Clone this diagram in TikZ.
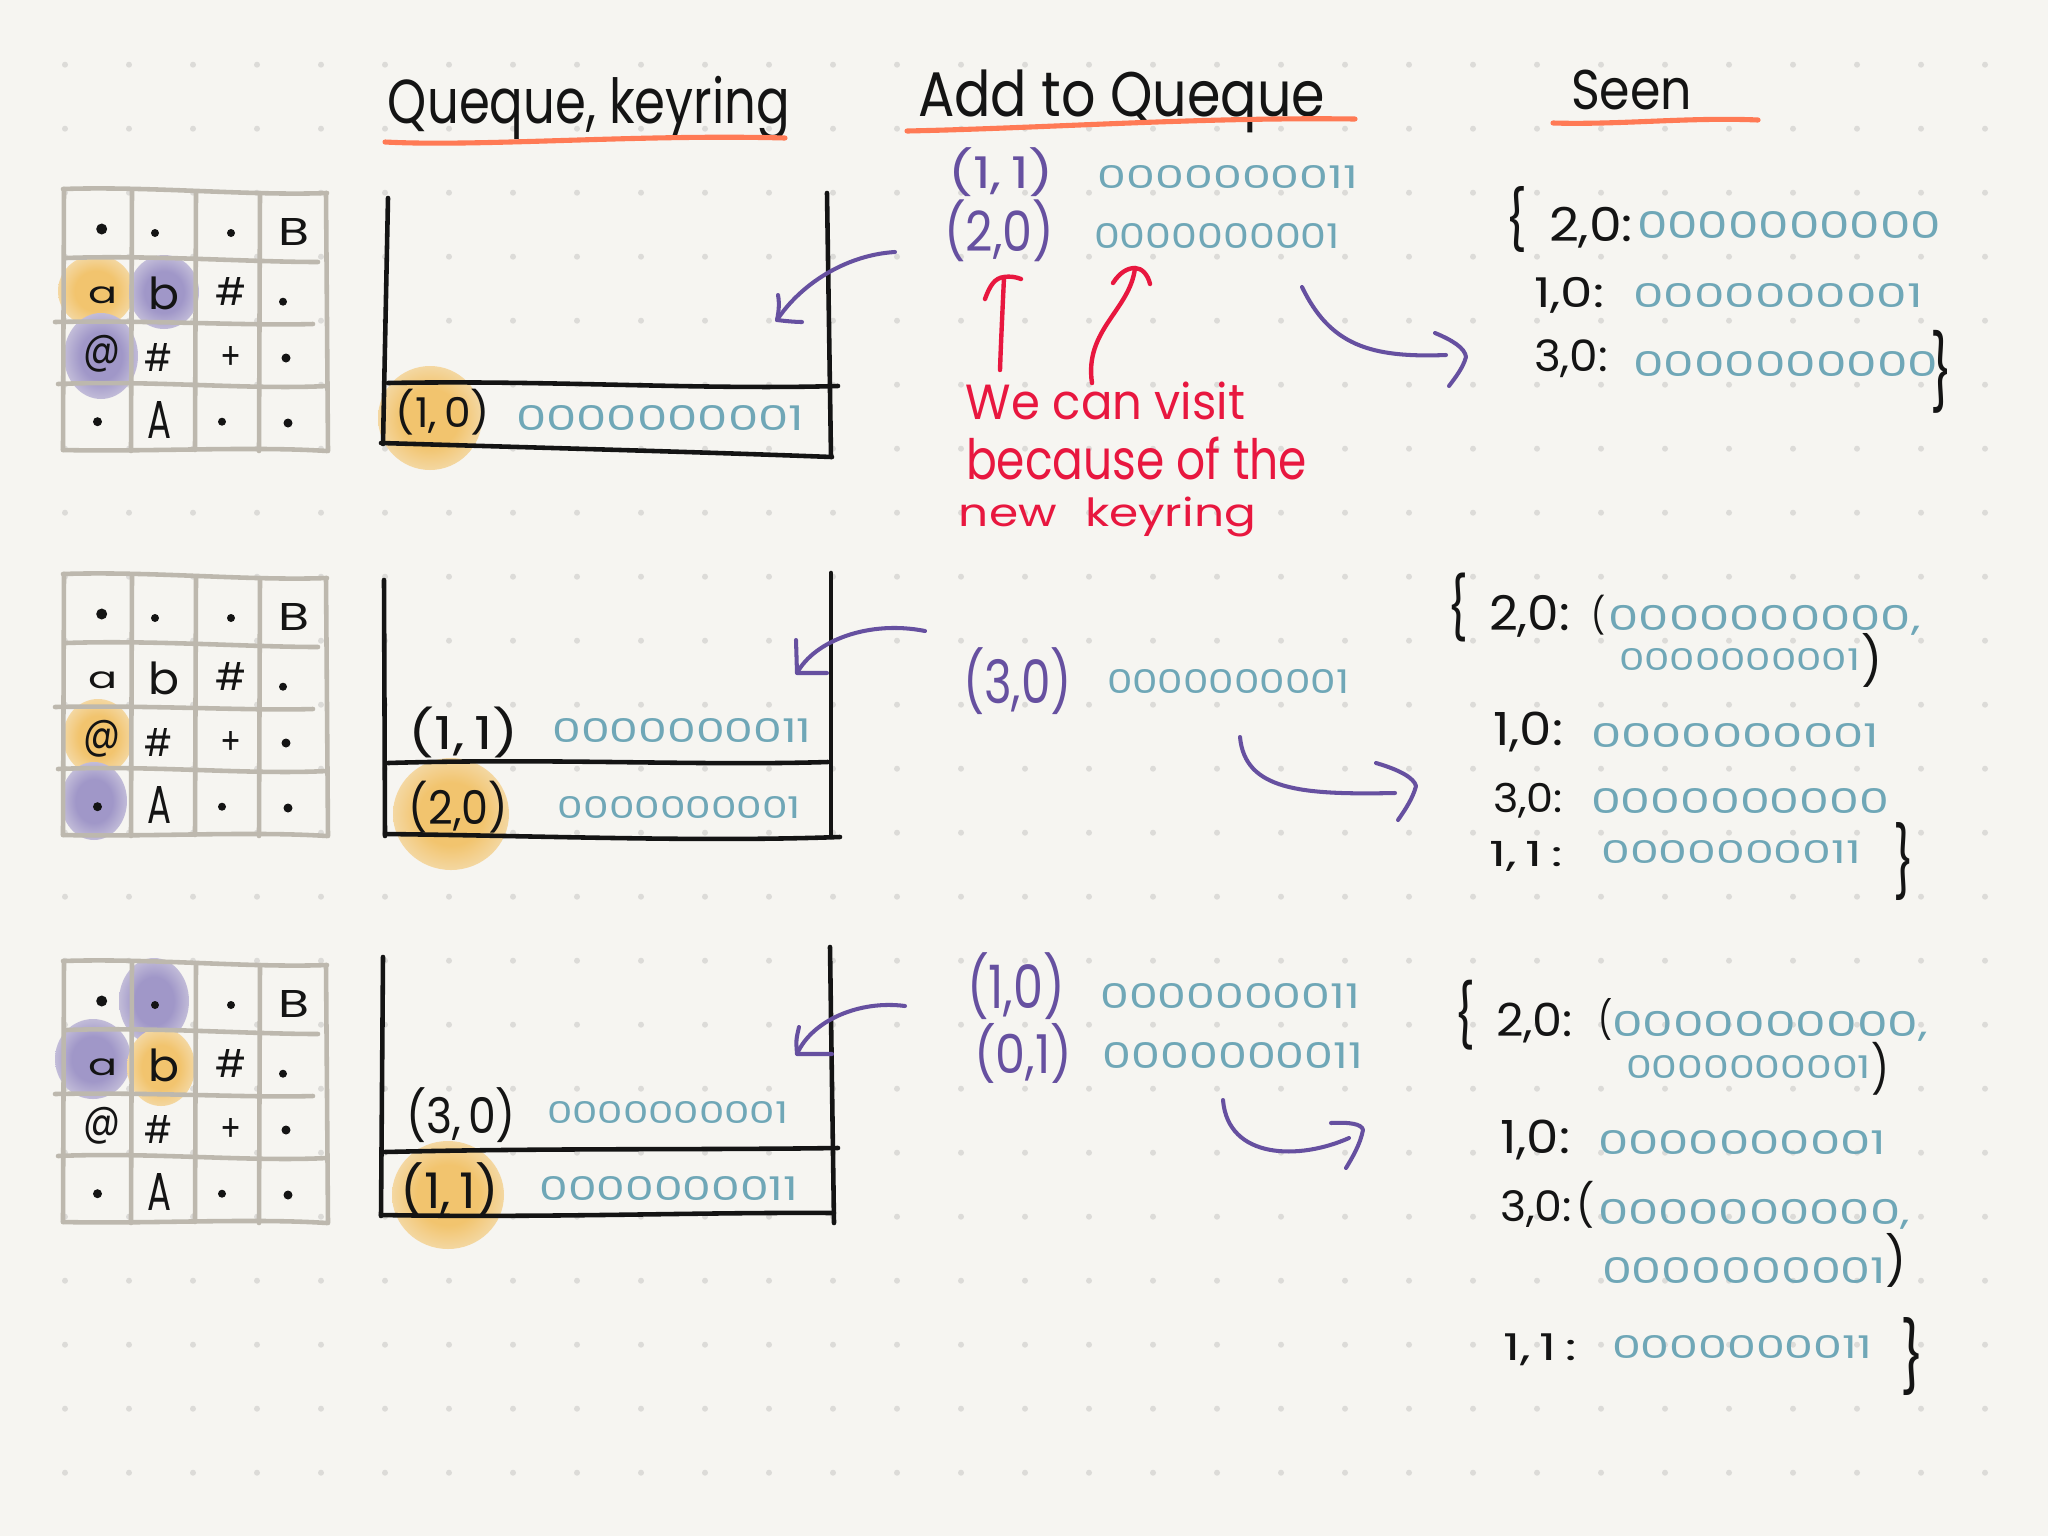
\documentclass[tikz,border=0pt]{standalone}
\usepackage{fontspec}
\setmainfont{Poppins}
\usepackage{graphicx}
\definecolor{bg}{HTML}{F6F5F1}
\definecolor{dotc}{HTML}{DCDBD8}
\definecolor{gridc}{HTML}{BDB8AE}
\definecolor{ink}{HTML}{141414}
\definecolor{bitc}{HTML}{6FA7B7}
\definecolor{purp}{HTML}{6650A0}
\definecolor{redc}{HTML}{E8173F}
\definecolor{undc}{HTML}{FF7A55}
\definecolor{hlO}{HTML}{F2C46E}
\definecolor{hlP}{HTML}{A097C8}
\pgfdeclareradialshading{blobO}{\pgfpoint{0bp}{0bp}}{color(0bp)=(hlO); color(14bp)=(hlO); color(42bp)=(bg); color(50bp)=(bg)}
\pgfdeclareradialshading{blobP}{\pgfpoint{0bp}{0bp}}{color(0bp)=(hlP); color(14bp)=(hlP); color(42bp)=(bg); color(50bp)=(bg)}
\newlength\pxl
\setlength\pxl{0.01cm}
\newcommand\fitbox[3]{\resizebox*{#1\pxl}{#2\pxl}{#3}}
\newcommand\tnode[7]{\node[txt,text=#2] (#1) at (#3,#4) {\fitbox{#5}{#6}{#7}};}
\newcommand\blob[5]{\shade[shading=#1] (#2,#3) ellipse (#4 and #5);}
\newcommand\sketchgrid[2]{%
\begin{scope}[shift={(0,#2)}]
\draw[gridl] (63,189) .. controls (150,186) and (250,196) .. (327,193);
\draw[gridl] (63,450) .. controls (150,452) and (250,446) .. (327,451);
\draw[gridl] (64,189) -- (63,450);
\draw[gridl] (326,193) -- (328,451);
\draw[gridl] (132,191) -- (131,451);
\draw[gridl] (196,193) -- (195,450);
\draw[gridl] (260,193) -- (259,451);
\draw[gridl] (66,258) .. controls (150,255) and (250,262) .. (318,262);
\draw[gridl] (55,322) .. controls (150,320) and (250,326) .. (313,324);
\draw[gridl] (58,384) .. controls (150,380) and (250,390) .. (327,386);
\fill[ink] (101.7,229) circle (5.5);
\fill[ink] (155,233) circle (4);
\fill[ink] (231,233) circle (4);
\node[txt,text=ink] (#1B) at (294,232) {\fitbox{31}{27}{B}};
\node[txt,text=ink] (#1a) at (103,295) {\fitbox{29}{17}{a}};
\node[txt,text=ink] (#1b) at (164.5,293) {\fitbox{31}{33}{b}};
\node[txt,text=ink] (#1ha) at (231,291) {\fitbox{31}{28}{\#}};
\fill[ink] (283,301.7) circle (4);
\node[txt,text=ink] (#1at) at (101.7,354) {\fitbox{37}{37}{@}};
\node[txt,text=ink] (#1hb) at (158,357) {\fitbox{28}{28}{\#}};
\node[txt,text=ink] (#1plus) at (231,358) {\fitbox{21}{23}{+}};
\fill[ink] (286,358) circle (4.5);
\fill[ink] (97.5,421.7) circle (4.5);
\node[txt,text=ink] (#1A) at (159,420) {\fitbox{24}{37}{A}};
\fill[ink] (222,421.7) circle (4);
\fill[ink] (288,423) circle (4.5);
\end{scope}}
\begin{document}
\begin{tikzpicture}[x=0.01cm,y=-0.01cm,
  txt/.style={inner sep=0pt,outer sep=0pt,anchor=center},
  gridl/.style={gridc,line width=1.3pt,line cap=round},
  boxl/.style={ink,line width=1.3pt,line cap=round,line join=round},
  parr/.style={purp,line width=1.15pt,line cap=round,line join=round},
  rarr/.style={redc,line width=1.25pt,line cap=round,line join=round},
  undl/.style={undc,line width=1.45pt,line cap=round}]
\useasboundingbox (0,0) rectangle (2048,1536);
\fill[bg] (0,0) rectangle (2048,1536);
\foreach \i in {0,...,30}{\foreach \j in {0,...,22}{\fill[dotc] ({65+64*\i},{64.7+64*\j}) circle (3);}}
% highlights
\blob{blobO}{96}{291}{38}{36}
\blob{blobP}{164}{292}{35}{37}
\blob{blobP}{101}{356}{37}{43}
\blob{blobO}{98}{737}{35}{38}
\blob{blobP}{94}{801}{33}{39}
\blob{blobP}{154}{1001}{35}{43}
\blob{blobP}{93}{1059}{38}{40}
\blob{blobO}{161}{1067}{34}{39}
\blob{blobO}{430}{418}{52}{52}
\blob{blobO}{451}{814}{58}{56}
\blob{blobO}{448}{1195}{56}{54}
% grids
\sketchgrid{ga}{0}
\sketchgrid{gb}{385}
\sketchgrid{gc}{772}
% titles
\tnode{t1}{ink}{589}{108}{402}{64}{Queque, keyring}
\tnode{t2}{ink}{1121.5}{101.5}{407}{63}{Add to Queque}
\tnode{t3}{ink}{1631.5}{90}{121}{40}{Seen}
\draw[undl] (385,142) .. controls (480,147) and (640,134) .. (785,138);
\draw[undl] (907,131) .. controls (1050,128) and (1200,117) .. (1355,119);
\draw[undl] (1553,123) .. controls (1620,125) and (1690,117) .. (1758,120);
% queue boxes
\draw[boxl] (388,198) -- (383,444);
\draw[boxl] (381,443) .. controls (550,448) and (700,452) .. (832,457);
\draw[boxl] (827,193) -- (831,457);
\draw[boxl] (388,383) .. controls (550,380) and (700,390) .. (838,386);
\draw[boxl] (384,580) -- (385,836);
\draw[boxl] (831,573) -- (831,837);
\draw[boxl] (388,763) .. controls (550,758) and (700,766) .. (828,762);
\draw[boxl] (385,834) .. controls (550,836) and (700,842) .. (840,837);
\draw[boxl] (383,957) -- (381,1216);
\draw[boxl] (830,947) -- (834,1223);
\draw[boxl] (385,1152) .. controls (550,1148) and (700,1150) .. (838,1148);
\draw[boxl] (381,1215) .. controls (550,1218) and (700,1212) .. (834,1213);
\tnode{qaa}{ink}{443}{412}{94}{46}{(1,\,0)}
\tnode{qab}{bitc}{660}{417.5}{288}{25}{0000000001}
\tnode{qba}{ink}{463.6}{732}{110}{51}{(1,\,1)}
\tnode{qbb}{bitc}{682}{730}{259}{24}{0000000011}
\tnode{qbc}{ink}{458.4}{807.5}{99}{52}{(2,0)}
\tnode{qbd}{bitc}{679.4}{807.5}{243}{22}{0000000001}
\tnode{qca}{ink}{461}{1115.5}{110}{55}{(3,\,0)}
\tnode{qcb}{bitc}{667.5}{1112.5}{241}{22}{0000000001}
\tnode{qcc}{ink}{450}{1190}{99}{55}{(1,\,1)}
\tnode{qcd}{bitc}{668.7}{1188.3}{258.5}{24}{0000000011}
% add to queue
\tnode{aaa}{purp}{1001}{172.5}{106}{49}{(1,\,1)}
\tnode{aab}{bitc}{1228}{176.5}{260}{23}{0000000011}
\tnode{aac}{purp}{999}{231}{110}{62}{(2,0)}
\tnode{aad}{bitc}{1217}{235.5}{246}{25}{0000000001}
\tnode{aba}{purp}{1017.5}{681.5}{109}{67}{(3,0)}
\tnode{abb}{bitc}{1228}{681}{242}{24}{0000000001}
\tnode{aca}{purp}{1016}{986.5}{98}{67}{(1,0)}
\tnode{acb}{bitc}{1230}{995.5}{259.5}{25}{0000000011}
\tnode{acc}{purp}{1023}{1053}{98}{60}{(0,1)}
\tnode{acd}{bitc}{1233}{1055}{260}{26}{0000000011}
% red note
\tnode{na}{redc}{1105.5}{401}{279}{38}{We can visit}
\tnode{nb}{redc}{1136.5}{458.5}{341}{43}{because of the}
\tnode{nc}{redc}{1107.5}{517}{297}{40}{new\hspace{0.6em}keyring}
\coordinate (ras) at (1000,370);
\coordinate (rae) at (1004,277);
\draw[rarr] (ras) .. controls (1001,340) and (1003,300) .. (rae);
\draw[rarr] (985,299) .. controls (990,285) and (995,278) .. (rae) .. controls (1010,276) and (1016,277) .. (1021,279);
\coordinate (rbs) at (1092,383);
\coordinate (rbe) at (1135,268);
\draw[rarr] (rbs) .. controls (1084,330) and (1130,310) .. (rbe);
\draw[rarr] (1113,283) .. controls (1120,272) and (1128,268) .. (rbe) .. controls (1142,268) and (1148,275) .. (1150,284);
% arrows into boxes
\coordinate (bas) at (895,252);
\coordinate (bae) at (777,320);
\draw[parr] (bas) .. controls (845,255) and (800,285) .. (bae);
\draw[parr] (778,295) .. controls (780,305) and (778,315) .. (bae) .. controls (785,321) and (795,322) .. (802,322);
\coordinate (bbs) at (925,631);
\coordinate (bbe) at (797,673);
\draw[parr] (bbs) .. controls (870,620) and (815,640) .. (bbe);
\draw[parr] (796,640) -- (bbe) -- (827,673);
\coordinate (bcs) at (905,1006);
\coordinate (bce) at (797,1054);
\draw[parr] (bcs) .. controls (860,1000) and (812,1020) .. (bce);
\draw[parr] (799,1027) .. controls (796,1040) .. (bce) -- (832,1054);
% arrows to seen
\coordinate (pas) at (1302,287);
\coordinate (pae) at (1446,355);
\draw[parr] (pas) .. controls (1330,345) and (1370,358) .. (pae);
\draw[parr] (1435,333) .. controls (1452,340) and (1465,348) .. (1466,357) .. controls (1463,368) and (1455,378) .. (1449,386);
\coordinate (pbs) at (1240,737);
\coordinate (pbe) at (1395,793);
\draw[parr] (pbs) .. controls (1245,790) and (1300,795) .. (pbe);
\draw[parr] (1376,763) .. controls (1400,770) and (1414,778) .. (1416,786) .. controls (1413,798) and (1405,810) .. (1398,820);
\coordinate (pcs) at (1223,1100);
\coordinate (pce) at (1349,1138);
\draw[parr] (pcs) .. controls (1228,1160) and (1300,1160) .. (pce);
\draw[parr] (1331,1123) .. controls (1350,1122) and (1362,1124) .. (1363,1130) .. controls (1360,1145) and (1352,1158) .. (1346,1168);
% seen 1
\tnode{sao}{ink}{1516}{220}{22}{66}{\{}
\tnode{saka}{ink}{1591}{227.5}{84}{41}{2,0:}
\tnode{sava}{bitc}{1789}{225}{304}{27}{0000000000}
\tnode{sakb}{ink}{1569}{295}{70}{36}{1,0:}
\tnode{savb}{bitc}{1778}{295}{290}{24}{0000000001}
\tnode{sakc}{ink}{1571}{359}{74}{38}{3,0:}
\tnode{savc}{bitc}{1785.5}{364}{305}{25}{0000000000}
\tnode{sac}{ink}{1941}{371.5}{22}{83}{\}}
% seen 2
\tnode{sbo}{ink}{1457.5}{607.5}{21}{69}{\{}
\tnode{sbka}{ink}{1529.5}{616}{81}{42}{2,0:}
\tnode{sbpa}{ink}{1598}{615}{14}{40}{(}
\tnode{sbva}{bitc}{1764.6}{620}{312}{30}{0000000000,}
\tnode{sbvb}{bitc}{1739.5}{659}{241}{22}{0000000001}
\tnode{sbpb}{ink}{1871.5}{660}{21}{54}{)}
\tnode{sbkb}{ink}{1528}{732}{70}{40}{1,0:}
\tnode{sbvc}{bitc}{1735}{735}{288}{24}{0000000001}
\tnode{sbkc}{ink}{1528}{800.5}{70}{35}{3,0:}
\tnode{sbvd}{bitc}{1740}{801}{298}{25}{0000000000}
\tnode{sbkd}{ink}{1526}{856.5}{74}{30}{1,\,1\,:}
\tnode{sbve}{bitc}{1731}{851.5}{259.5}{23}{0000000011}
\tnode{sbc}{ink}{1903.5}{861}{21}{78}{\}}
% seen 3
\tnode{sco}{ink}{1464.5}{1015}{21}{70}{\{}
\tnode{scka}{ink}{1534.5}{1023}{77}{40}{2,0:}
\tnode{scpa}{ink}{1605}{1019}{14}{42}{(}
\tnode{scva}{bitc}{1770}{1026}{316}{30}{0000000000,}
\tnode{scvb}{bitc}{1748.5}{1067}{245}{23}{0000000001}
\tnode{scpb}{ink}{1880}{1068.5}{18}{53}{)}
\tnode{sckb}{ink}{1535}{1140}{70}{40}{1,0:}
\tnode{scvc}{bitc}{1742}{1142}{288}{24}{0000000001}
\tnode{sckc}{ink}{1536}{1208.5}{72}{37}{3,0:}
\tnode{scpc}{ink}{1585}{1205}{18}{47}{(}
\tnode{scvd}{bitc}{1754}{1214}{312}{30}{0000000000,}
\tnode{scve}{bitc}{1744}{1270}{284}{26}{0000000001}
\tnode{scpd}{ink}{1896}{1260}{21}{54}{)}
\tnode{sckd}{ink}{1540}{1350}{74}{32}{1,\,1\,:}
\tnode{scvf}{bitc}{1742}{1346.5}{260}{23}{0000000011}
\tnode{scc}{ink}{1912}{1356}{24}{78}{\}}
\end{tikzpicture}
\end{document}
